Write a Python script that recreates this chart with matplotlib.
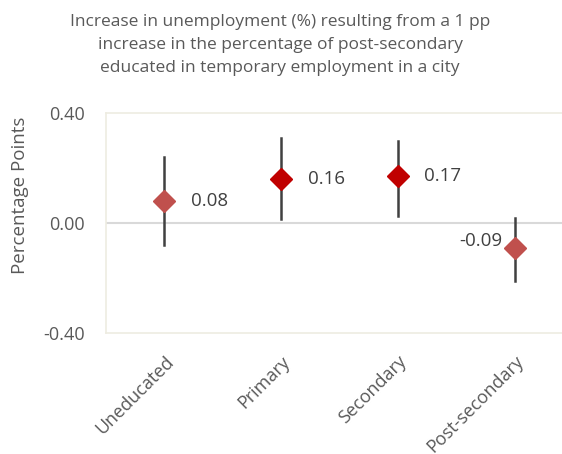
import numpy as np
import matplotlib
matplotlib.use("Agg")
import matplotlib.pyplot as plt
import matplotlib.transforms as mtransforms

# data
categorias = ["Uneducated", "Primary", "Secondary", "Post-secondary"]
estimativas = [0.08, 0.16, 0.17, -0.09]
limite_sup = [0.24, 0.31, 0.30, 0.02]
limite_inf = [-0.08, 0.015, 0.025, -0.21]
cores = ["#C0504D", "#C00000", "#C00000", "#C0504D"]
rotulos = ["0.08", "0.16", "0.17", "-0.09"]

plt.rcParams["font.family"] = ["Open Sans", "DejaVu Sans"]
cinza = "#595959"

fig = plt.figure(figsize=(5.62, 4.54), dpi=100)
# axes extends a little past the right edge, as in the original
ax = fig.add_axes([106 / 562, 1 - 333 / 454, 467 / 562, 220 / 454])

x = np.arange(len(categorias))
for i in x:
    ax.plot([i, i], [limite_inf[i], limite_sup[i]], color="#404040", lw=1.8, zorder=2)
    ax.plot(i, estimativas[i], marker="D", ms=11.5, color=cores[i], mec=cores[i], zorder=3)
    if estimativas[i] >= 0:
        ax.annotate(rotulos[i], (i, estimativas[i]), xytext=(19, 0), textcoords="offset points",
                    ha="left", va="center", fontsize=13.5, color="#404040")
    else:
        ax.annotate(rotulos[i], (i, estimativas[i]), xytext=(-9, 5), textcoords="offset points",
                    ha="right", va="center", fontsize=13.5, color="#404040")

ax.axhline(0, color="#D9D9D9", lw=1.5, zorder=1)
ax.set_xlim(-0.5, 3.5)
ax.set_ylim(-0.4, 0.4)
ax.set_yticks([-0.4, 0.0, 0.4])
ax.set_yticklabels(["-0.40", "0.00", "0.40"], fontsize=13, color=cinza)
ax.set_xticks(x)
ax.set_xticklabels(categorias, rotation=45, ha="right", rotation_mode="anchor",
                   fontsize=13, color=cinza)
desloc = mtransforms.ScaledTranslation(-11 / 100, 0, fig.dpi_scale_trans)
for t in ax.get_xticklabels():
    t.set_transform(t.get_transform() + desloc)
ax.tick_params(length=0)
ax.tick_params(axis="y", pad=15)
ax.tick_params(axis="x", pad=14)
for s in ax.spines.values():
    s.set_color("#EEECE1")
    s.set_linewidth(1.2)

fig.text(20 / 562, 1 - 195 / 454, "Percentage Points", rotation=90, ha="center", va="center",
         fontsize=13.5, color=cinza)
fig.text(280 / 562, 1 - 45 / 454,
         "Increase in unemployment (%) resulting from a 1 pp\n"
         "increase in the percentage of post-secondary\n"
         "educated in temporary employment in a city",
         ha="center", va="center", fontsize=12.5, color=cinza, linespacing=1.55)

fig.savefig("out.png", dpi=100)
